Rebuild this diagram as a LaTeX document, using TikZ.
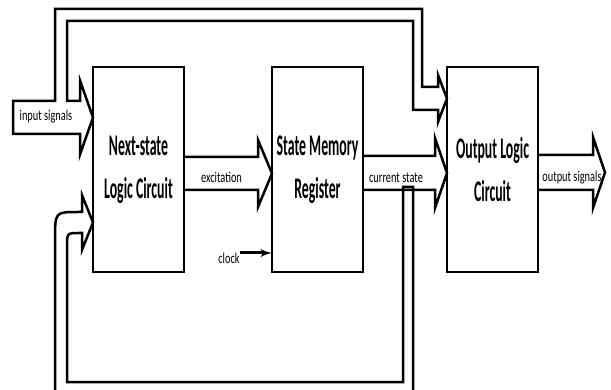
\documentclass[tikz,border=0pt]{standalone}
\usepackage{fontspec}
\setmainfont{Carlito}
\newfontfamily\blockfont[FakeStretch=0.46]{Carlito}
\newfontfamily\tagfont[FakeStretch=0.69]{Carlito}
\usetikzlibrary{positioning,arrows}

\begin{document}
\begin{tikzpicture}[x=1pt,y=-1pt,>=latex',
	block/.style={draw,line width=2.8pt,minimum width=91pt,minimum height=205pt,outer sep=0pt,
		align=center,font=\blockfont\bfseries\fontsize{30}{43}\selectfont},
	tag/.style={font=\tagfont\fontsize{15}{17}\selectfont,anchor=base,inner sep=0pt},
	pipe/.style={line width=2.5pt}]
		\useasboundingbox (0,0) rectangle (611,390);

		\node[block] (nsl) at (138.5,169.5) {Next-state\\Logic Circuit};
		\node[block] (smr) [right=88pt of nsl] {State Memory\\Register};
		\node[block] (olc) [right=84pt of smr] {Output Logic\\Circuit};

		% input signals, also led over the top into the output logic
		\draw[pipe] (13,101) -- (55,101) -- (55,9) -- (422,9) -- (422,87) -- (438,87) -- (438,75)
			-- (olc.west |- 0,98.5) -- (438,122) -- (438,110) -- (413,110) -- (413,21) -- (67,21)
			-- (67,101) -- (80,101) -- (80,80.5) -- (nsl.west |- 0,117.5) -- (80,154.5)
			-- (80,134) -- (13,134) -- cycle;

		% excitation
		\draw[pipe] (nsl.east |- 0,157) -- (258,157) -- (258,140) -- (smr.west |- 0,173.5)
			-- (258,207) -- (258,190) -- (nsl.east |- 0,190);

		% current state and its feedback
		\draw[pipe] (smr.east |- 0,156) -- (435,156) -- (435,138) -- (olc.west |- 0,173)
			-- (435,208) -- (435,190) -- (smr.east |- 0,190);
		\draw[pipe] (413,392) -- (413,187) -- (403,187) -- (403,382) -- (67,382) -- (67,247)
			.. controls (67,233) .. (79,233) -- (82,233) -- (82,250) -- (nsl.west |- 0,222.5)
			-- (82,195) -- (82,212) -- (78,212) .. controls (55,212) .. (55,240) -- (55,392);

		% output signals
		\draw[pipe] (olc.east |- 0,155) -- (593,155) -- (593,137) -- (605,172.5)
			-- (593,208) -- (593,190) -- (olc.east |- 0,190);

		\node[tag] (ins) at (46,121) {input signals};
		\node[tag] (exc) at (221.5,183) {excitation};
		\node[tag] (cst) at (396,183) {current state};
		\node[tag] (outs) at (572,182) {output signals};
		\node[tag] (clk) at (229,264) {clock};

		\draw[->,line width=3pt] (clk.east |- 0,253) -- (smr.west |- 0,253);
	\end{tikzpicture}
\end{document}
